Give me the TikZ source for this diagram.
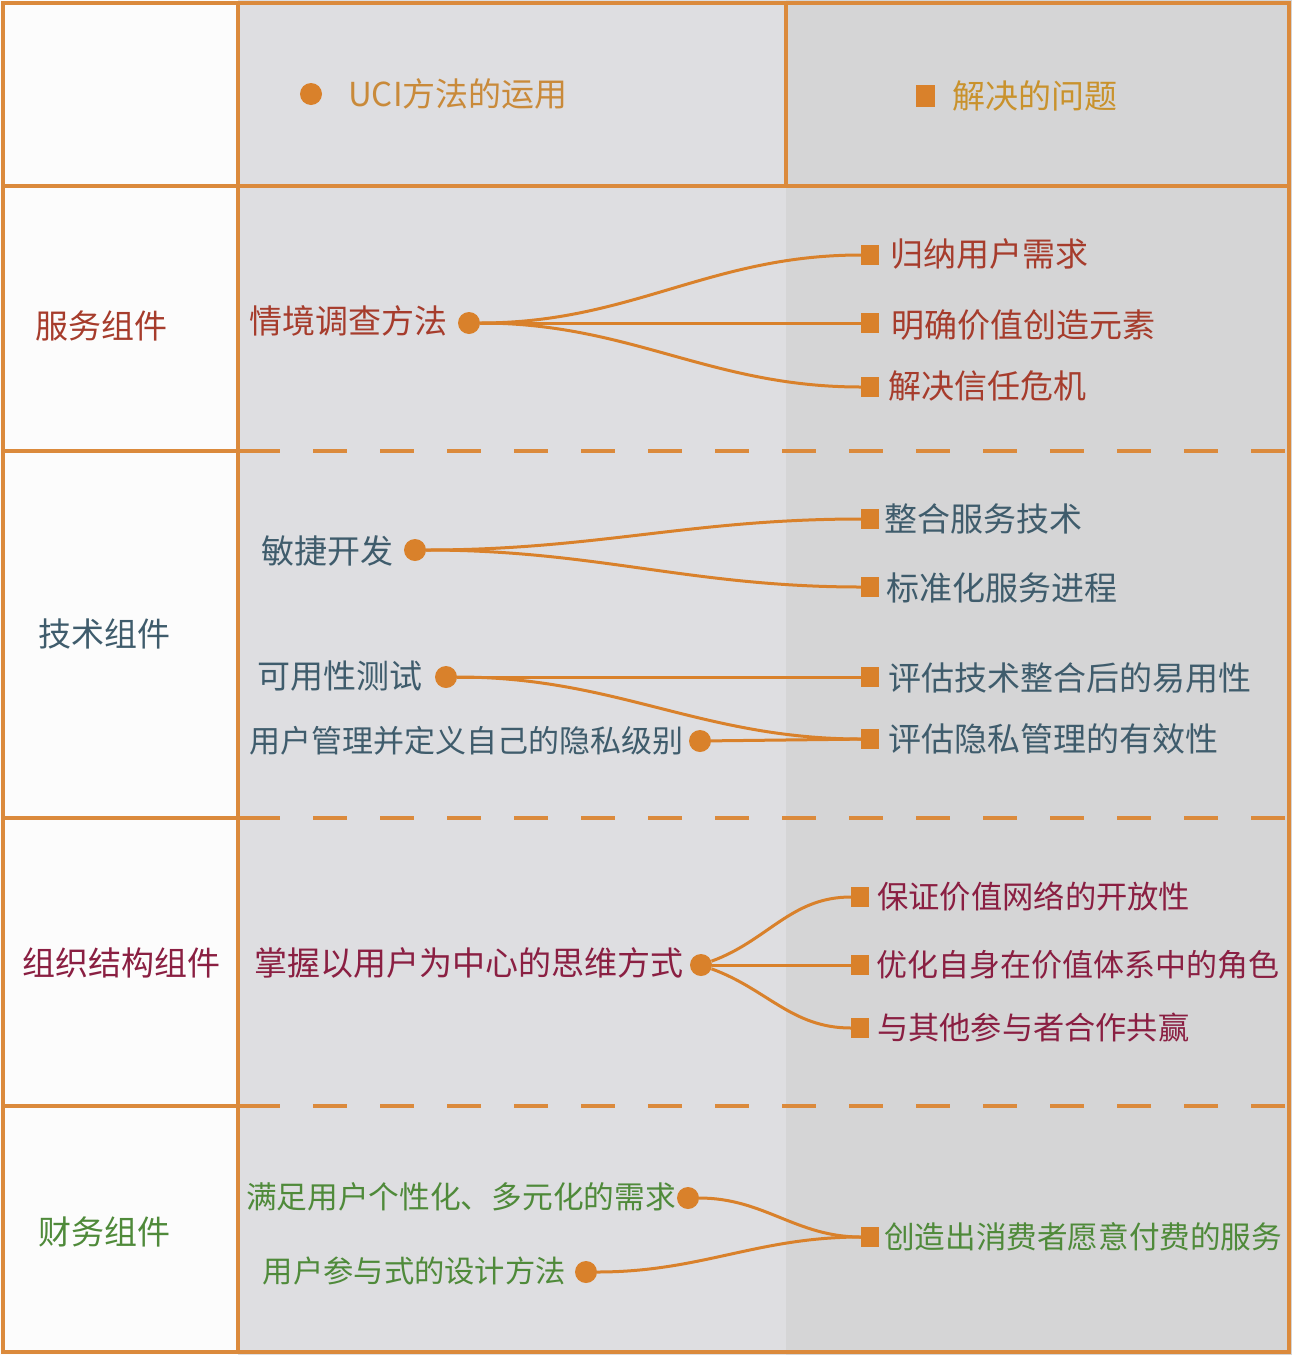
\documentclass[tikz,border=0pt]{standalone}
\usepackage{fontspec}
\newfontfamily\cjk{Noto Sans CJK SC}
\definecolor{lineor}{HTML}{D9812B}
\definecolor{bordor}{HTML}{DB8A3C}
\definecolor{bgleft}{HTML}{FCFCFC}
\definecolor{bgmid}{HTML}{DEDEE1}
\definecolor{bgright}{HTML}{D5D5D6}
\definecolor{hdrA}{HTML}{C98A3A}
\definecolor{hdrB}{HTML}{C9922C}
\definecolor{cRed}{HTML}{A63C2C}
\definecolor{cBlue}{HTML}{3F5C6C}
\definecolor{cMar}{HTML}{8A1F42}
\definecolor{cGreen}{HTML}{4F8A3A}
\tikzset{
  border/.style={draw=bordor, line width=3.2},
  dotn/.style={circle, fill=lineor, inner sep=0, minimum size=22},
  sqn/.style={rectangle, fill=lineor, inner sep=0, minimum width=18, minimum height=20},
  lbl/.style={font=\cjk\fontsize{#1}{#1}\selectfont, inner sep=0},
  lbl/.default=33,
  conn/.style={draw=lineor, line width=3},
}
\begin{document}
\begin{tikzpicture}[x=1pt,y=-1pt]
\useasboundingbox (0,0) rectangle (1292,1355);
% backgrounds
\fill[bgleft] (0,0) rectangle (238,1355);
\fill[bgmid] (238,0) rectangle (786,1355);
\fill[bgright] (786,0) rectangle (1292,1355);
% frame
\draw[border] (3,3) rectangle (1289,1352);
\draw[border] (238,3) -- (238,1352);
\draw[border] (786,3) -- (786,186);
\draw[border] (3,186) -- (1289,186);
\foreach \yy in {451,818,1106}{
  \draw[border] (3,\yy) -- (280,\yy);
  \draw[border, dash pattern=on 34 off 33] (313,\yy) -- (1289,\yy);
}
% header
\node[dotn] (hd) at (311,94) {};
\node[lbl, text=hdrA, anchor=west] (ht1) at (348,94) {UCI方法的运用};
\node[sqn, minimum width=19, minimum height=22] (hs) at (925,96) {};
\node[lbl, text=hdrB, anchor=west] (ht2) at (952,96) {解决的问题};

% row 1
\node[lbl, text=cRed, anchor=west] (r1) at (35,326) {服务组件};
\node[dotn] (d1) at (469,323) {};
\node[lbl, text=cRed, anchor=east] (m1) at (448,321) {情境调查方法};
\node[sqn] (s11) at (870,255) {};
\node[sqn] (s12) at (870,323) {};
\node[sqn] (s13) at (870,387) {};
\node[lbl, text=cRed, anchor=west] (t11) at (890,254) {归纳用户需求};
\node[lbl, text=cRed, anchor=west] (t12) at (891,325) {明确价值创造元素};
\node[lbl, text=cRed, anchor=west] (t13) at (888,386) {解决信任危机};
\draw[conn] (d1) to[out=0,in=180] (s11);
\draw[conn] (d1) -- (s12);
\draw[conn] (d1) to[out=0,in=180] (s13);

% row 2
\node[lbl, text=cBlue, anchor=west] (r2) at (38,634) {技术组件};
\node[dotn] (d2) at (415,550) {};
\node[lbl, text=cBlue, anchor=east] (m2) at (394,551) {敏捷开发};
\node[dotn] (d3) at (446,677) {};
\node[lbl, text=cBlue, anchor=east] (m3) at (423,676) {可用性测试};
\node[dotn] (d4) at (700,741) {};
\node[lbl=31, text=cBlue, anchor=east] (m4) at (684,741) {用户管理并定义自己的隐私级别};
\node[sqn] (s21) at (870,519) {};
\node[sqn] (s22) at (870,587) {};
\node[sqn] (s23) at (870,677) {};
\node[sqn] (s24) at (870,739) {};
\node[lbl, text=cBlue, anchor=west] (t21) at (884,519) {整合服务技术};
\node[lbl, text=cBlue, anchor=west] (t22) at (886,588) {标准化服务进程};
\node[lbl, text=cBlue, anchor=west] (t23) at (888,678) {评估技术整合后的易用性};
\node[lbl, text=cBlue, anchor=west] (t24) at (888,739) {评估隐私管理的有效性};
\draw[conn] (d2) to[out=0,in=180] (s21);
\draw[conn] (d2) to[out=0,in=180] (s22);
\draw[conn] (d3) -- (s23);
\draw[conn] (d3) to[out=0,in=180] (s24);
\draw[conn] (d4) -- (s24);

% row 3
\node[lbl, text=cMar, anchor=west] (r3) at (22,963) {组织结构组件};
\node[dotn] (d5) at (701,965) {};
\node[lbl, text=cMar, anchor=east] (m5) at (684,963) {掌握以用户为中心的思维方式};
\node[sqn] (s31) at (860,897) {};
\node[sqn] (s32) at (860,965) {};
\node[sqn] (s33) at (860,1028) {};
\node[lbl=31.3, text=cMar, anchor=west] (t31) at (877,897) {保证价值网络的开放性};
\node[lbl=31, text=cMar, anchor=west] (t32) at (876,965) {优化自身在价值体系中的角色};
\node[lbl=31.2, text=cMar, anchor=west] (t33) at (877,1028) {与其他参与者合作共赢};
\draw[conn] (d5) to[out=20,in=180] (s31);
\draw[conn] (d5) -- (s32);
\draw[conn] (d5) to[out=-20,in=180] (s33);

% row 4
\node[lbl, text=cGreen, anchor=west] (r4) at (38,1232) {财务组件};
\node[dotn] (d6) at (688,1198) {};
\node[lbl=30.7, text=cGreen, anchor=east] (m6) at (676,1197) {满足用户个性化、多元化的需求};
\node[dotn] (d7) at (586,1272) {};
\node[lbl=30.3, text=cGreen, anchor=east] (m7) at (566,1271) {用户参与式的设计方法};
\node[sqn] (s41) at (870,1237) {};
\node[lbl=30.6, text=cGreen, anchor=west] (t41) at (884,1237) {创造出消费者愿意付费的服务};
\draw[conn] (d6) to[out=0,in=180] (s41);
\draw[conn] (d7) to[out=0,in=180] (s41);
\end{tikzpicture}
\end{document}
